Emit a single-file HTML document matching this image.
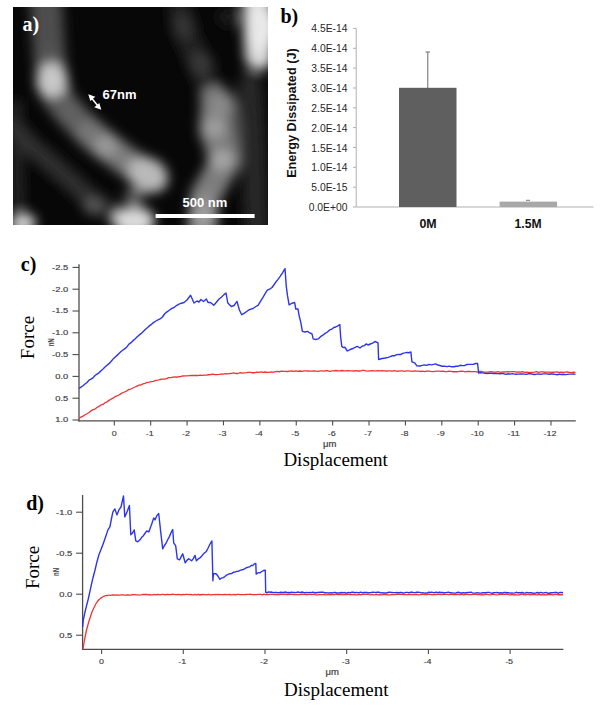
<!DOCTYPE html>
<html><head><meta charset="utf-8"><style>
html,body{margin:0;padding:0;background:#fff;width:602px;height:707px;overflow:hidden;position:relative}
</style></head><body>
<svg width="602" height="707" viewBox="0 0 602 707" style="position:absolute;left:0;top:0">
<defs><filter id="bl" x="-20%" y="-20%" width="140%" height="140%"><feGaussianBlur stdDeviation="6"/></filter>
<clipPath id="afm"><rect x="13" y="7" width="255" height="218"/></clipPath></defs>
<rect x="13" y="7" width="255" height="218" fill="#070707"/>
<g clip-path="url(#afm)"><g filter="url(#bl)">
<polyline points="16,105 17,150 18,205" fill="none" stroke="#262626" stroke-width="12" stroke-linecap="round" stroke-linejoin="round"/>
<polyline points="14,128 33,148 53,165 72,182 92,200 112,212" fill="none" stroke="#2e2e2e" stroke-width="20" stroke-linecap="round" stroke-linejoin="round"/>
<polyline points="250,85 254,150 256,225" fill="none" stroke="#262626" stroke-width="24" stroke-linecap="round" stroke-linejoin="round"/>
<polyline points="180,10 186,35 200,64 210,92" fill="none" stroke="#202020" stroke-width="24" stroke-linecap="round" stroke-linejoin="round"/>
<polyline points="46,0 48,35 50,62" fill="none" stroke="#4e4e4e" stroke-width="32" stroke-linecap="round" stroke-linejoin="round"/>
<polyline points="52,86 58,98 70,113 90,133" fill="none" stroke="#5c5c5c" stroke-width="30" stroke-linecap="round" stroke-linejoin="round"/>
<polyline points="90,133 106,146 125,160 148,176" fill="none" stroke="#707070" stroke-width="30" stroke-linecap="round" stroke-linejoin="round"/>
<polyline points="226,105 229,130 230,160" fill="none" stroke="#555555" stroke-width="24" stroke-linecap="round" stroke-linejoin="round"/>
<polyline points="216,100 214,130 221,148 223,165 214,181 205,197 202,230" fill="none" stroke="#7d7d7d" stroke-width="30" stroke-linecap="round" stroke-linejoin="round"/>
<polyline points="257,0 258,35 259,56" fill="none" stroke="#d7d7d7" stroke-width="28" stroke-linecap="round" stroke-linejoin="round"/>
<ellipse cx="228" cy="17" rx="10" ry="10" fill="#1e1e1e"/>
<ellipse cx="183" cy="27" rx="11" ry="11" fill="#343434"/>
<ellipse cx="201" cy="64" rx="12" ry="12" fill="#373737"/>
<ellipse cx="49" cy="55" rx="14" ry="9" fill="#555555"/>
<ellipse cx="52" cy="80" rx="16" ry="17" fill="#c8c8c8"/>
<ellipse cx="70" cy="113" rx="11" ry="10" fill="#626262"/>
<ellipse cx="90" cy="133" rx="11" ry="10" fill="#767676"/>
<ellipse cx="106" cy="146" rx="12" ry="11" fill="#989898"/>
<ellipse cx="124" cy="159" rx="10" ry="9" fill="#808080"/>
<ellipse cx="148" cy="175" rx="21" ry="17" fill="#b9b9b9" transform="rotate(30 148 175)"/>
<ellipse cx="134" cy="197" rx="10" ry="9" fill="#5f5f5f"/>
<ellipse cx="134" cy="221" rx="21" ry="14" fill="#dadada"/>
<ellipse cx="23" cy="223" rx="13" ry="10" fill="#d4d4d4"/>
<ellipse cx="93" cy="206" rx="10" ry="9" fill="#555555"/>
<ellipse cx="221" cy="107" rx="11" ry="9" fill="#8c8c8c"/>
<ellipse cx="214" cy="128" rx="12" ry="10" fill="#9e9e9e"/>
<ellipse cx="222" cy="160" rx="12" ry="10" fill="#a5a5a5"/>
<ellipse cx="204" cy="200" rx="11" ry="9" fill="#8c8c8c"/>
<ellipse cx="203" cy="216" rx="12" ry="11" fill="#a0a0a0"/>
<ellipse cx="261" cy="28" rx="17" ry="24" fill="#e8e8e8"/>
</g></g>
<text x="22.5" y="30.6" font-family="Liberation Serif" font-weight="bold" font-size="20" fill="#fff">a)</text>
<text x="102.5" y="99.2" font-family="Liberation Sans" font-weight="bold" font-size="13" fill="#fff">67nm</text>
<g stroke="#fff" stroke-width="1.6" fill="#fff"><line x1="91.5" y1="98" x2="98" y2="106"/></g>
<polygon points="88.3,94.3 95.3,96.8 90.3,101" fill="#fff"/>
<polygon points="101.3,109.8 94.3,107.3 99.3,103.1" fill="#fff"/>
<text x="182.5" y="207.3" font-family="Liberation Sans" font-weight="bold" font-size="13" fill="#fff">500 nm</text>
<rect x="155.6" y="214" width="99" height="4" fill="#fff"/>
<text x="280.4" y="23.3" font-family="Liberation Serif" font-weight="bold" font-size="20" fill="#000">b)</text>
<line x1="356.2" y1="28.4" x2="356.2" y2="207" stroke="#b0b0b0" stroke-width="1"/>
<line x1="356.2" y1="207" x2="593.5" y2="207" stroke="#b0b0b0" stroke-width="1"/>
<line x1="353" y1="207" x2="356.2" y2="207" stroke="#b0b0b0" stroke-width="1"/>
<text x="347.4" y="211" text-anchor="end" font-family="Liberation Sans" font-size="10.3" fill="#262626">0.0E+00</text>
<line x1="353" y1="187.2" x2="356.2" y2="187.2" stroke="#b0b0b0" stroke-width="1"/>
<text x="347.4" y="191.2" text-anchor="end" font-family="Liberation Sans" font-size="10.3" fill="#262626">5.0E-15</text>
<line x1="353" y1="167.3" x2="356.2" y2="167.3" stroke="#b0b0b0" stroke-width="1"/>
<text x="347.4" y="171.3" text-anchor="end" font-family="Liberation Sans" font-size="10.3" fill="#262626">1.0E-14</text>
<line x1="353" y1="147.5" x2="356.2" y2="147.5" stroke="#b0b0b0" stroke-width="1"/>
<text x="347.4" y="151.5" text-anchor="end" font-family="Liberation Sans" font-size="10.3" fill="#262626">1.5E-14</text>
<line x1="353" y1="127.6" x2="356.2" y2="127.6" stroke="#b0b0b0" stroke-width="1"/>
<text x="347.4" y="131.6" text-anchor="end" font-family="Liberation Sans" font-size="10.3" fill="#262626">2.0E-14</text>
<line x1="353" y1="107.8" x2="356.2" y2="107.8" stroke="#b0b0b0" stroke-width="1"/>
<text x="347.4" y="111.8" text-anchor="end" font-family="Liberation Sans" font-size="10.3" fill="#262626">2.5E-14</text>
<line x1="353" y1="88" x2="356.2" y2="88" stroke="#b0b0b0" stroke-width="1"/>
<text x="347.4" y="92" text-anchor="end" font-family="Liberation Sans" font-size="10.3" fill="#262626">3.0E-14</text>
<line x1="353" y1="68.1" x2="356.2" y2="68.1" stroke="#b0b0b0" stroke-width="1"/>
<text x="347.4" y="72.1" text-anchor="end" font-family="Liberation Sans" font-size="10.3" fill="#262626">3.5E-14</text>
<line x1="353" y1="48.3" x2="356.2" y2="48.3" stroke="#b0b0b0" stroke-width="1"/>
<text x="347.4" y="52.3" text-anchor="end" font-family="Liberation Sans" font-size="10.3" fill="#262626">4.0E-14</text>
<line x1="353" y1="28.4" x2="356.2" y2="28.4" stroke="#b0b0b0" stroke-width="1"/>
<text x="347.4" y="32.4" text-anchor="end" font-family="Liberation Sans" font-size="10.3" fill="#262626">4.5E-14</text>
<rect x="399" y="87.8" width="57.5" height="119.2" fill="#5f5f5f"/>
<line x1="427.8" y1="52" x2="427.8" y2="88" stroke="#6a6a6a" stroke-width="1"/>
<line x1="425.5" y1="52" x2="430" y2="52" stroke="#6a6a6a" stroke-width="1"/>
<rect x="499.6" y="201.6" width="57.4" height="5.4" fill="#a8a8a8"/>
<line x1="526" y1="200.3" x2="530" y2="200.3" stroke="#777" stroke-width="1"/>
<text x="428" y="228.3" text-anchor="middle" font-family="Liberation Sans" font-weight="bold" font-size="13" textLength="17.2" lengthAdjust="spacingAndGlyphs" fill="#111">0M</text>
<text x="528" y="228.3" text-anchor="middle" font-family="Liberation Sans" font-weight="bold" font-size="13" textLength="27" lengthAdjust="spacingAndGlyphs" fill="#111">1.5M</text>
<text transform="translate(295.6 113.1) rotate(-90)" text-anchor="middle" font-family="Liberation Sans" font-weight="bold" font-size="12.3" textLength="129.5" lengthAdjust="spacingAndGlyphs" fill="#111">Energy Dissipated (J)</text>
<text x="20.8" y="270.8" font-family="Liberation Serif" font-weight="bold" font-size="20" fill="#000">c)</text>
<line x1="79" y1="264.2" x2="79" y2="421.5" stroke="#4d4d4d" stroke-width="1.3"/>
<line x1="78.4" y1="420.9" x2="575.8" y2="420.9" stroke="#4d4d4d" stroke-width="1.3"/>
<line x1="72.5" y1="267.4" x2="79" y2="267.4" stroke="#4d4d4d" stroke-width="1.1"/>
<text transform="translate(68.2 269.8) scale(1.17 1)" text-anchor="end" font-family="Liberation Sans" font-size="8" fill="#404040" stroke="#404040" stroke-width="0.18">-2.5</text>
<line x1="72.5" y1="289.2" x2="79" y2="289.2" stroke="#4d4d4d" stroke-width="1.1"/>
<text transform="translate(68.2 291.6) scale(1.17 1)" text-anchor="end" font-family="Liberation Sans" font-size="8" fill="#404040" stroke="#404040" stroke-width="0.18">-2.0</text>
<line x1="72.5" y1="311" x2="79" y2="311" stroke="#4d4d4d" stroke-width="1.1"/>
<text transform="translate(68.2 313.4) scale(1.17 1)" text-anchor="end" font-family="Liberation Sans" font-size="8" fill="#404040" stroke="#404040" stroke-width="0.18">-1.5</text>
<line x1="72.5" y1="332.8" x2="79" y2="332.8" stroke="#4d4d4d" stroke-width="1.1"/>
<text transform="translate(68.2 335.2) scale(1.17 1)" text-anchor="end" font-family="Liberation Sans" font-size="8" fill="#404040" stroke="#404040" stroke-width="0.18">-1.0</text>
<line x1="72.5" y1="354.6" x2="79" y2="354.6" stroke="#4d4d4d" stroke-width="1.1"/>
<text transform="translate(68.2 357) scale(1.17 1)" text-anchor="end" font-family="Liberation Sans" font-size="8" fill="#404040" stroke="#404040" stroke-width="0.18">-0.5</text>
<line x1="72.5" y1="376.4" x2="79" y2="376.4" stroke="#4d4d4d" stroke-width="1.1"/>
<text transform="translate(68.2 378.8) scale(1.17 1)" text-anchor="end" font-family="Liberation Sans" font-size="8" fill="#404040" stroke="#404040" stroke-width="0.18">0.0</text>
<line x1="72.5" y1="398.2" x2="79" y2="398.2" stroke="#4d4d4d" stroke-width="1.1"/>
<text transform="translate(68.2 400.6) scale(1.17 1)" text-anchor="end" font-family="Liberation Sans" font-size="8" fill="#404040" stroke="#404040" stroke-width="0.18">0.5</text>
<line x1="72.5" y1="420" x2="79" y2="420" stroke="#4d4d4d" stroke-width="1.1"/>
<text transform="translate(68.2 422.4) scale(1.17 1)" text-anchor="end" font-family="Liberation Sans" font-size="8" fill="#404040" stroke="#404040" stroke-width="0.18">1.0</text>
<line x1="114.3" y1="420.9" x2="114.3" y2="425.4" stroke="#4d4d4d" stroke-width="1.1"/>
<text transform="translate(114.3 435.5) scale(1.12 1)" text-anchor="middle" font-family="Liberation Sans" font-size="8" fill="#404040" stroke="#404040" stroke-width="0.15">0</text>
<line x1="150.69" y1="420.9" x2="150.69" y2="425.4" stroke="#4d4d4d" stroke-width="1.1"/>
<text transform="translate(149.69 435.5) scale(1.12 1)" text-anchor="middle" font-family="Liberation Sans" font-size="8" fill="#404040" stroke="#404040" stroke-width="0.15">-1</text>
<line x1="187.08" y1="420.9" x2="187.08" y2="425.4" stroke="#4d4d4d" stroke-width="1.1"/>
<text transform="translate(186.08 435.5) scale(1.12 1)" text-anchor="middle" font-family="Liberation Sans" font-size="8" fill="#404040" stroke="#404040" stroke-width="0.15">-2</text>
<line x1="223.47" y1="420.9" x2="223.47" y2="425.4" stroke="#4d4d4d" stroke-width="1.1"/>
<text transform="translate(222.47 435.5) scale(1.12 1)" text-anchor="middle" font-family="Liberation Sans" font-size="8" fill="#404040" stroke="#404040" stroke-width="0.15">-3</text>
<line x1="259.86" y1="420.9" x2="259.86" y2="425.4" stroke="#4d4d4d" stroke-width="1.1"/>
<text transform="translate(258.86 435.5) scale(1.12 1)" text-anchor="middle" font-family="Liberation Sans" font-size="8" fill="#404040" stroke="#404040" stroke-width="0.15">-4</text>
<line x1="296.25" y1="420.9" x2="296.25" y2="425.4" stroke="#4d4d4d" stroke-width="1.1"/>
<text transform="translate(295.25 435.5) scale(1.12 1)" text-anchor="middle" font-family="Liberation Sans" font-size="8" fill="#404040" stroke="#404040" stroke-width="0.15">-5</text>
<line x1="332.64" y1="420.9" x2="332.64" y2="425.4" stroke="#4d4d4d" stroke-width="1.1"/>
<text transform="translate(331.64 435.5) scale(1.12 1)" text-anchor="middle" font-family="Liberation Sans" font-size="8" fill="#404040" stroke="#404040" stroke-width="0.15">-6</text>
<line x1="369.03" y1="420.9" x2="369.03" y2="425.4" stroke="#4d4d4d" stroke-width="1.1"/>
<text transform="translate(368.03 435.5) scale(1.12 1)" text-anchor="middle" font-family="Liberation Sans" font-size="8" fill="#404040" stroke="#404040" stroke-width="0.15">-7</text>
<line x1="405.42" y1="420.9" x2="405.42" y2="425.4" stroke="#4d4d4d" stroke-width="1.1"/>
<text transform="translate(404.42 435.5) scale(1.12 1)" text-anchor="middle" font-family="Liberation Sans" font-size="8" fill="#404040" stroke="#404040" stroke-width="0.15">-8</text>
<line x1="441.81" y1="420.9" x2="441.81" y2="425.4" stroke="#4d4d4d" stroke-width="1.1"/>
<text transform="translate(440.81 435.5) scale(1.12 1)" text-anchor="middle" font-family="Liberation Sans" font-size="8" fill="#404040" stroke="#404040" stroke-width="0.15">-9</text>
<line x1="478.2" y1="420.9" x2="478.2" y2="425.4" stroke="#4d4d4d" stroke-width="1.1"/>
<text transform="translate(477.2 435.5) scale(1.12 1)" text-anchor="middle" font-family="Liberation Sans" font-size="8" fill="#404040" stroke="#404040" stroke-width="0.15">-10</text>
<line x1="514.59" y1="420.9" x2="514.59" y2="425.4" stroke="#4d4d4d" stroke-width="1.1"/>
<text transform="translate(513.59 435.5) scale(1.12 1)" text-anchor="middle" font-family="Liberation Sans" font-size="8" fill="#404040" stroke="#404040" stroke-width="0.15">-11</text>
<line x1="550.98" y1="420.9" x2="550.98" y2="425.4" stroke="#4d4d4d" stroke-width="1.1"/>
<text transform="translate(549.98 435.5) scale(1.12 1)" text-anchor="middle" font-family="Liberation Sans" font-size="8" fill="#404040" stroke="#404040" stroke-width="0.15">-12</text>
<text x="329.8" y="446.8" text-anchor="middle" font-family="Liberation Sans" font-size="8.3" textLength="13.4" lengthAdjust="spacingAndGlyphs" fill="#404040" stroke="#404040" stroke-width="0.2">&#956;m</text>
<text x="283.4" y="465.6" font-family="Liberation Serif" font-size="19" fill="#000">Displacement</text>
<text transform="translate(34.4 337.5) rotate(-90)" text-anchor="middle" font-family="Liberation Serif" font-size="19" fill="#000">Force</text>
<text transform="translate(54.3 342.3) rotate(-90)" text-anchor="middle" font-family="Liberation Sans" font-weight="bold" font-size="8.5" textLength="8" lengthAdjust="spacingAndGlyphs" fill="#404040">nN</text>
<text x="26.2" y="509.5" font-family="Liberation Serif" font-weight="bold" font-size="20" fill="#000">d)</text>
<line x1="82.6" y1="495" x2="82.6" y2="650" stroke="#4d4d4d" stroke-width="1.3"/>
<line x1="82" y1="649.4" x2="563.4" y2="649.4" stroke="#4d4d4d" stroke-width="1.3"/>
<line x1="76.1" y1="512.2" x2="82.6" y2="512.2" stroke="#4d4d4d" stroke-width="1.1"/>
<text transform="translate(72.2 514.6) scale(1.17 1)" text-anchor="end" font-family="Liberation Sans" font-size="8" fill="#404040" stroke="#404040" stroke-width="0.18">-1.0</text>
<line x1="76.1" y1="553.2" x2="82.6" y2="553.2" stroke="#4d4d4d" stroke-width="1.1"/>
<text transform="translate(72.2 555.6) scale(1.17 1)" text-anchor="end" font-family="Liberation Sans" font-size="8" fill="#404040" stroke="#404040" stroke-width="0.18">-0.5</text>
<line x1="76.1" y1="594.2" x2="82.6" y2="594.2" stroke="#4d4d4d" stroke-width="1.1"/>
<text transform="translate(72.2 596.6) scale(1.17 1)" text-anchor="end" font-family="Liberation Sans" font-size="8" fill="#404040" stroke="#404040" stroke-width="0.18">0.0</text>
<line x1="76.1" y1="635.2" x2="82.6" y2="635.2" stroke="#4d4d4d" stroke-width="1.1"/>
<text transform="translate(72.2 637.6) scale(1.17 1)" text-anchor="end" font-family="Liberation Sans" font-size="8" fill="#404040" stroke="#404040" stroke-width="0.18">0.5</text>
<line x1="101.6" y1="649.4" x2="101.6" y2="653.9" stroke="#4d4d4d" stroke-width="1.1"/>
<text transform="translate(101.6 664) scale(1.12 1)" text-anchor="middle" font-family="Liberation Sans" font-size="8" fill="#404040" stroke="#404040" stroke-width="0.15">0</text>
<line x1="183.3" y1="649.4" x2="183.3" y2="653.9" stroke="#4d4d4d" stroke-width="1.1"/>
<text transform="translate(182.3 664) scale(1.12 1)" text-anchor="middle" font-family="Liberation Sans" font-size="8" fill="#404040" stroke="#404040" stroke-width="0.15">-1</text>
<line x1="265" y1="649.4" x2="265" y2="653.9" stroke="#4d4d4d" stroke-width="1.1"/>
<text transform="translate(264 664) scale(1.12 1)" text-anchor="middle" font-family="Liberation Sans" font-size="8" fill="#404040" stroke="#404040" stroke-width="0.15">-2</text>
<line x1="346.7" y1="649.4" x2="346.7" y2="653.9" stroke="#4d4d4d" stroke-width="1.1"/>
<text transform="translate(345.7 664) scale(1.12 1)" text-anchor="middle" font-family="Liberation Sans" font-size="8" fill="#404040" stroke="#404040" stroke-width="0.15">-3</text>
<line x1="428.4" y1="649.4" x2="428.4" y2="653.9" stroke="#4d4d4d" stroke-width="1.1"/>
<text transform="translate(427.4 664) scale(1.12 1)" text-anchor="middle" font-family="Liberation Sans" font-size="8" fill="#404040" stroke="#404040" stroke-width="0.15">-4</text>
<line x1="510.1" y1="649.4" x2="510.1" y2="653.9" stroke="#4d4d4d" stroke-width="1.1"/>
<text transform="translate(509.1 664) scale(1.12 1)" text-anchor="middle" font-family="Liberation Sans" font-size="8" fill="#404040" stroke="#404040" stroke-width="0.15">-5</text>
<text x="332.2" y="675" text-anchor="middle" font-family="Liberation Sans" font-size="8.3" textLength="13.4" lengthAdjust="spacingAndGlyphs" fill="#404040" stroke="#404040" stroke-width="0.2">&#956;m</text>
<text x="284" y="695.6" font-family="Liberation Serif" font-size="19" fill="#000">Displacement</text>
<text transform="translate(38.9 567.4) rotate(-90)" text-anchor="middle" font-family="Liberation Serif" font-size="19" fill="#000">Force</text>
<text transform="translate(58.7 572) rotate(-90)" text-anchor="middle" font-family="Liberation Sans" font-weight="bold" font-size="8.5" textLength="8" lengthAdjust="spacingAndGlyphs" fill="#404040">nN</text>
<polyline fill="none" stroke="#ee3436" stroke-width="1.3" stroke-linejoin="round" points="79,418.5 81,417.08 83,416.12 85,414.77 87,413.74 89,412.55 91,410.89 93,409.64 95,409.09 97,407.42 99,406.4 101,404.99 103,404.4 105,402.78 107,401.87 109,400.38 111,399.2 113,398.19 115,396.69 117,395.96 119,395.03 121,393.64 123,392.5 125,391.78 127,390.8 129,389.4 131,389.04 133,387.99 135,387 137,386.07 139,385.09 141,384.99 143,383.91 145,383.34 147,382.4 149.17,382.22 151.33,381.6 153.5,381.29 155.67,380.38 157.83,380.22 160,379.5 162.2,379.08 164.4,379.09 166.6,378.66 168.8,377.66 171,377.6 173,377.07 175,376.89 177,377.24 179,376.58 181,376.49 183,375.98 185,375.9 187.13,375.79 189.27,375.58 191.4,375.43 193.53,375.5 195.67,375.38 197.8,375.52 199.93,375.23 202.07,375.31 204.2,375.14 206.33,375.13 208.47,374.75 210.6,374.5 212.71,374.12 214.82,374.58 216.94,374.55 219.05,374.4 221.16,374.02 223.28,374.03 225.39,373.53 227.5,373.92 229.61,373.6 231.72,373.27 233.84,372.98 235.95,373.51 238.06,373.51 240.18,372.68 242.29,373.15 244.4,372.8 246.46,372.66 248.52,372.39 250.58,372.44 252.64,372.75 254.7,372.76 256.76,372.04 258.81,372.42 260.87,371.9 262.93,372.37 264.99,372 267.05,372.37 269.11,372.38 271.17,371.94 273.23,372.27 275.29,371.65 277.35,371.39 279.41,371.75 281.47,371.23 283.53,371.29 285.59,371.39 287.64,371.49 289.7,371.06 291.76,370.9 293.82,371.49 295.88,370.98 297.94,371.43 300,371 302,371.31 304,370.89 306,370.95 308,370.99 310,371.09 312,371.04 314,371.01 316,371.05 318,371.3 320,370.95 322,370.88 324,371.11 326,370.72 328,370.76 330,371.3 332,370.93 334,370.94 336,370.51 338,370.82 340,370.95 342,370.5 344,370.97 346,370.97 348,370.51 350,370.96 352,370.82 354,370.99 356,370.72 358,371 360,371.02 362,370.44 364,370.47 366,370.95 368,371.18 370,370.8 372.03,370.62 374.05,370.8 376.08,370.92 378.11,370.72 380.14,370.78 382.16,370.75 384.19,370.81 386.22,371.01 388.24,370.79 390.27,370.87 392.3,371.2 394.33,370.62 396.35,371.08 398.38,371.23 400.41,370.9 402.43,370.85 404.46,371.33 406.49,370.9 408.52,370.87 410.54,371.09 412.57,371.31 414.6,370.85 416.62,371.05 418.65,371.07 420.68,371.49 422.71,371.19 424.73,371.54 426.76,371.01 428.79,371.16 430.81,371.43 432.84,371.63 434.87,371.3 436.89,371.14 438.92,371.07 440.95,371.42 442.98,371.16 445,371.67 447.03,371.71 449.06,371.21 451.08,371.3 453.11,371.74 455.14,371.63 457.17,371.77 459.19,371.42 461.22,371.27 463.25,371.41 465.27,371.83 467.3,371.43 469.33,371.51 471.36,371.58 473.38,371.6 475.41,371.61 477.44,372.03 479.46,371.44 481.49,371.34 483.52,372.1 485.55,372.07 487.57,372.17 489.6,371.8 491.65,371.76 493.69,372.18 495.74,372.18 497.78,371.63 499.83,372.06 501.87,372.14 503.92,372.01 505.96,371.91 508.01,371.74 510.05,371.79 512.1,371.71 514.14,371.6 516.19,372.03 518.23,371.8 520.28,372.23 522.32,371.63 524.37,372.33 526.41,372.17 528.46,372.37 530.5,372.36 532.55,372.37 534.6,372.12 536.64,371.68 538.69,372.28 540.73,371.84 542.78,371.95 544.82,372.25 546.87,372.15 548.91,372.08 550.96,372.51 553,372.26 555.05,372.05 557.09,371.99 559.14,372.49 561.18,372.2 563.23,372.45 565.27,372.12 567.32,372.01 569.36,372.29 571.41,372.53 573.45,372.03 575.5,372.3"/>
<polyline fill="none" stroke="#2c36e8" stroke-width="1.4" stroke-linejoin="round" points="79,388.4 81,387.13 83,385.7 85,384.03 87,382.48 89,380.11 91,379.17 93,377.84 95,375.47 97,374.13 99,372.8 101,370.69 103,369.06 105,367.07 107,365.24 109,363.66 111,361.5 113,359.09 115,357.22 117,355.38 119,353.46 121,351.49 123,350 125,348.64 127,346.69 129,344.09 131,342.67 133,340.65 135,339 137,336.98 139,335.18 141,333.65 143,331.75 145,329.69 147,328 149.25,325.94 151.5,324.33 153.75,322.37 156,321 158,319.89 160,318.88 162,317.5 165,313.5 167.3,311.63 169.6,310 171.8,308.33 174,307.5 176.5,305.53 179,304.2 181.5,303.22 184,302.5 187,300 190.6,295.3 194,303 197,301 199,302 201,299.5 203.5,301.5 206.4,299 208,302.5 210.5,302.5 213.8,305.3 216.4,302.25 219,299 221.33,297.28 223.67,294.88 226,293 227.8,303 231.3,306.5 234,305.5 237,301.4 239.4,310 241.7,314.7 244.03,313.43 246.37,311.69 248.7,310 250.85,309.18 253,308.5 255.5,306.77 258,305.3 260.32,301.52 262.65,297.95 264.98,293.9 267.3,290.2 269.65,289.04 272,287.5 274,284.74 276,281.8 278,279.36 280,276.6 282.5,272.8 285,268.6 286.3,286.6 287.5,295.7 289.1,304.8 291.5,303.5 294.6,302.4 295.8,309 298,309 299.1,315.6 300.8,322.3 302.4,331.4 305,332 307.4,331.4 310,333 312,333.9 313.2,338.9 315.7,339.5 318.2,338.9 320.52,336.65 322.84,335.18 325.16,333.37 327.48,332 329.8,329.8 331.8,329.18 333.8,327.55 335.8,327.02 337.8,325.85 339.8,324.5 340.6,336.4 341.8,346.4 343.2,347.5 344.8,347.2 347.3,351 350.15,349.51 353,348.5 355.1,347.41 357.2,346.4 360,348 362.13,346.26 364.27,345.58 366.4,343.9 368,345 370.33,344 372.67,343.05 375,341.5 378,342.9 378.6,359.5 382,358.5 384.06,358.32 386.13,357.72 388.19,357.32 390.26,356.68 392.32,355.75 394.39,355.76 396.45,354.7 398.51,354.37 400.58,354.53 402.64,353.33 404.71,352.91 406.77,352.44 408.84,352.75 410.9,351.9 411.9,361.9 414.8,362.9 416.8,365.8 420,366 422.26,365.38 424.51,364.92 426.77,365.44 429.03,364.42 431.29,364.84 433.54,364.37 435.8,363.9 437.8,365.04 439.8,365.5 442.18,366.21 444.56,366.1 446.94,366.58 449.32,366.08 451.7,366.8 453.86,366.79 456.02,366.26 458.18,366.19 460.33,365.31 462.49,365.67 464.65,365.58 466.81,364.44 468.97,364.42 471.12,364.39 473.28,364.38 475.44,363.52 477.6,363.5 478.6,373 480.74,372.76 482.88,372.91 485.02,373.36 487.16,373.57 489.3,373.29 491.44,373.35 493.58,373.46 495.72,373.49 497.86,373.64 500,373.8 502.04,373.4 504.08,373.83 506.12,374.32 508.16,373.78 510.2,374.13 512.24,373.56 514.28,374.1 516.32,374.19 518.36,374.12 520.41,373.98 522.45,373.96 524.49,374.14 526.53,374.41 528.57,373.68 530.61,373.64 532.65,374.31 534.69,374.49 536.73,374.11 538.77,374.05 540.81,374.34 542.85,373.83 544.89,373.92 546.93,373.87 548.97,374.27 551.01,374.02 553.05,373.95 555.09,374.43 557.14,374.71 559.18,374.07 561.22,374.49 563.26,374.22 565.3,374.67 567.34,374.42 569.38,374.12 571.42,374.09 573.46,373.91 575.5,374.4"/>
<polyline fill="none" stroke="#ee3436" stroke-width="1.3" stroke-linejoin="round" points="83,649 84.5,640 86.5,630 89,621 90.5,616.49 92,612 93.75,608.17 95.5,604.5 97.25,601.77 99,599.5 100.75,598.15 102.5,597 104.25,596.13 106,595.5 107.5,595.57 109,595 110.5,595.47 112,595 113.52,594.97 115.04,595.04 116.56,594.93 118.08,595.17 119.6,595.15 121.12,594.94 122.64,594.87 124.16,595.03 125.68,595.11 127.2,594.77 128.72,594.99 130.24,595.13 131.76,594.77 133.28,594.59 134.8,594.57 136.32,594.9 137.84,594.85 139.36,595.03 140.88,594.94 142.4,594.5 143.92,594.45 145.44,594.48 146.96,594.41 148.48,594.76 150,594.6 151.5,594.85 153,594.88 154.5,594.43 156,594.85 157.5,594.46 159,594.54 160.5,594.75 162,594.3 163.5,594.31 165,594.82 166.5,594.44 168,594.49 169.5,594.64 171,594.71 172.5,594.24 174,594.47 175.5,594.54 177,594.57 178.5,594.38 180,594.64 181.5,594.9 183,594.5 184.5,594.61 186,594.31 187.5,594.42 189,594.69 190.5,594.3 192,594.84 193.5,594.86 195,594.29 196.5,594.88 198,594.48 199.5,594.76 201,594.75 202.5,594.42 204,594.69 205.5,594.67 207,594.78 208.5,594.4 210,594.74 211.5,594.88 213,594.68 214.5,594.58 216,594.29 217.5,594.55 219,594.45 220.5,594.71 222,594.68 223.5,594.6 225,594.33 226.5,594.65 228,594.64 229.5,594.32 231,594.82 232.5,594.65 234,594.28 235.5,594.85 237,594.29 238.5,594.42 240,594.69 241.5,594.61 243,594.58 244.5,594.64 246,594.51 247.5,594.4 249,594.31 250.5,594.23 252,594.68 253.5,594.71 255,594.56 256.5,594.7 258,594.43 259.5,594.36 261,594.44 262.5,594.79 264,594.2 265.5,594.53 267,594.35 268.5,594.71 270,594.42 271.5,594.4 273,594.45 274.5,594.55 276,594.71 277.5,594.41 279,594.76 280.5,594.24 282,594.35 283.5,594.23 285,594.24 286.5,594.7 288,594.67 289.5,594.29 291,594.29 292.5,594.45 294,594.67 295.5,594.72 297,594.68 298.5,594.57 300,594.5 301.5,594.25 303.01,594.43 304.51,594.29 306.01,594.52 307.51,594.55 309.02,594.29 310.52,594.33 312.02,594.7 313.53,594.18 315.03,594.72 316.53,594.78 318.03,594.82 319.54,594.43 321.04,594.54 322.54,594.57 324.05,594.6 325.55,594.84 327.05,594.64 328.55,594.37 330.06,594.76 331.56,594.5 333.06,594.58 334.57,594.67 336.07,594.17 337.57,594.7 339.07,594.63 340.58,594.51 342.08,594.53 343.58,594.49 345.09,594.3 346.59,594.54 348.09,594.19 349.59,594.52 351.1,594.62 352.6,594.48 354.1,594.57 355.61,594.84 357.11,594.8 358.61,594.27 360.11,594.73 361.62,594.61 363.12,594.21 364.62,594.43 366.13,594.34 367.63,594.23 369.13,594.55 370.63,594.83 372.14,594.4 373.64,594.79 375.14,594.66 376.65,594.27 378.15,594.78 379.65,594.6 381.15,594.83 382.66,594.68 384.16,594.7 385.66,594.42 387.17,594.75 388.67,594.84 390.17,594.79 391.67,594.49 393.18,594.72 394.68,594.53 396.18,594.26 397.69,594.22 399.19,594.24 400.69,594.33 402.19,594.3 403.7,594.54 405.2,594.68 406.7,594.57 408.21,594.49 409.71,594.65 411.21,594.41 412.71,594.52 414.22,594.72 415.72,594.48 417.22,594.32 418.73,594.82 420.23,594.7 421.73,594.45 423.23,594.46 424.74,594.57 426.24,594.62 427.74,594.36 429.25,594.2 430.75,594.35 432.25,594.75 433.75,594.3 435.26,594.52 436.76,594.34 438.26,594.35 439.77,594.32 441.27,594.49 442.77,594.32 444.27,594.22 445.78,594.28 447.28,594.32 448.78,594.55 450.29,594.25 451.79,594.22 453.29,594.52 454.79,594.49 456.3,594.7 457.8,594.25 459.3,594.49 460.81,594.49 462.31,594.23 463.81,594.89 465.31,594.37 466.82,594.28 468.32,594.55 469.82,594.33 471.33,594.65 472.83,594.46 474.33,594.3 475.83,594.25 477.34,594.73 478.84,594.41 480.34,594.77 481.85,594.54 483.35,594.87 484.85,594.43 486.35,594.4 487.86,594.41 489.36,594.79 490.86,594.66 492.37,594.46 493.87,594.29 495.37,594.7 496.87,594.9 498.38,594.64 499.88,594.23 501.38,594.25 502.89,594.29 504.39,594.35 505.89,594.25 507.39,594.27 508.9,594.69 510.4,594.86 511.9,594.37 513.41,594.91 514.91,594.57 516.41,594.79 517.91,594.88 519.42,594.89 520.92,594.26 522.42,594.45 523.93,594.66 525.43,594.9 526.93,594.3 528.43,594.44 529.94,594.83 531.44,594.32 532.94,594.51 534.45,594.47 535.95,594.72 537.45,594.89 538.95,594.36 540.46,594.76 541.96,594.76 543.46,594.83 544.97,594.63 546.47,594.89 547.97,594.5 549.47,594.54 550.98,594.41 552.48,594.79 553.98,594.58 555.49,594.44 556.99,594.37 558.49,594.75 559.99,594.67 561.5,594.75 563,594.6"/>
<polyline fill="none" stroke="#2c36e8" stroke-width="1.4" stroke-linejoin="round" points="82.6,627 83.3,620 85,612 86.5,605.89 88,600 89.67,592.55 91.33,584.79 93,577.7 94.97,570.28 96.93,561.96 98.9,554.8 100.57,550.43 102.23,546.39 103.9,541.8 105.9,536.03 107.9,529.9 109.9,526.9 111.4,519 112.9,511.9 114.9,508.9 116.9,514.9 118.9,509.9 121,507 123.5,496 124.8,516.9 127,512 129.4,505.5 130.8,534.8 132.5,533 134.2,529.9 135.8,540.8 137.8,541.8 140,539.8 141.7,537.31 143.4,535.69 145.1,533.27 146.8,530.9 148.8,531.9 150.43,527.61 152.07,522.94 153.7,517.9 155,519.9 156.7,515.9 158.7,513.5 160.7,531.9 162.7,548.8 164.37,545.75 166.03,543.2 167.7,539.8 169.37,536.6 171.03,532.77 172.7,529.5 173.7,542.8 175.7,545.8 177.3,558.8 179.7,559.8 181.2,556.67 182.7,553.8 185.2,562.8 186.9,560.37 188.6,558.8 190.1,559.7 191.6,560.8 193.3,558.56 195,555.4 196.4,560.8 198.2,558.9 200,557.8 201.5,556.37 203,554.41 204.5,552.88 206,551.8 207.97,548.32 209.93,544.27 211.9,540.9 212.9,580.7 213.5,573.7 216,573.7 217.95,576.05 219.9,579.3 221.57,578.02 223.23,577.58 224.9,576.59 226.57,575.08 228.23,574.36 229.9,573.7 231.6,573.61 233.3,572.31 235,572.09 236.7,571.39 238.4,571.2 240.1,570.46 241.8,569.8 243.4,569.49 245,568.64 246.6,567.69 248.2,567.08 249.8,566.8 251.3,565.53 252.8,565.43 254.3,563.86 255.8,563.4 256.2,574.1 258.03,572.76 259.87,572.83 261.7,571.5 263.5,570.55 265.3,570.2 265.7,592.3 267.21,592.7 268.73,591.9 270.24,592.29 271.76,592.05 273.27,592.66 274.78,592.46 276.3,592.49 277.81,592.62 279.32,592.73 280.84,592.22 282.35,592.48 283.87,592.33 285.38,592 286.89,592.73 288.41,592.5 289.92,592.73 291.43,592.12 292.95,592.46 294.46,592.4 295.98,592.67 297.49,592.02 299,592.3 300.52,592.44 302.03,592.04 303.54,592.53 305.06,592.71 306.57,592.41 308.09,592.64 309.6,592.5 311.11,592.61 312.62,592.22 314.12,592.36 315.63,593 317.14,592.34 318.65,592.44 320.16,592.1 321.67,592.23 323.18,592.18 324.68,592.95 326.19,592.75 327.7,592.9 329.21,593.01 330.72,592.64 332.23,592.96 333.73,592.56 335.24,592.45 336.75,592.98 338.26,592.94 339.77,592.99 341.28,592.52 342.78,592.81 344.29,592.45 345.8,593.04 347.31,592.96 348.82,592.34 350.33,592.98 351.83,592.23 353.34,592.15 354.85,592.78 356.36,592.35 357.87,592.58 359.38,592.7 360.88,592.1 362.39,592.81 363.9,592.34 365.41,592.5 366.92,592.41 368.43,592.81 369.93,592.82 371.44,592.36 372.95,592.18 374.46,592.38 375.97,592.49 377.48,592.16 378.98,592.24 380.49,592.85 382,592.79 383.51,593.06 385.02,593.07 386.52,592.97 388.03,592.47 389.54,592.26 391.05,592.41 392.56,592.56 394.07,592.63 395.58,592.64 397.08,592.46 398.59,592.96 400.1,592.39 401.61,592.57 403.12,593 404.62,592.92 406.13,592.41 407.64,592.36 409.15,592.92 410.66,592.13 412.17,592.25 413.68,592.65 415.18,592.66 416.69,592.29 418.2,592.18 419.71,592.33 421.22,592.9 422.73,592.6 424.23,593.12 425.74,592.92 427.25,593.12 428.76,592.18 430.27,592.33 431.78,592.16 433.28,592.58 434.79,592.49 436.3,592.2 437.81,592.7 439.32,592.25 440.83,592.47 442.33,592.4 443.84,592.96 445.35,592.58 446.86,592.42 448.37,592.21 449.88,592.6 451.38,592.8 452.89,592.84 454.4,593.08 455.91,592.98 457.42,592.42 458.93,592.31 460.43,592.94 461.94,592.97 463.45,592.69 464.96,593.01 466.47,592.74 467.98,592.47 469.48,592.36 470.99,592.21 472.5,592.84 474.01,593.09 475.52,593.1 477.02,592.67 478.53,592.87 480.04,593.13 481.55,593.02 483.06,592.81 484.57,592.62 486.07,592.73 487.58,592.38 489.09,592.4 490.6,592.9 492.11,593.21 493.62,592.76 495.12,592.63 496.63,592.57 498.14,592.68 499.65,593.03 501.16,592.68 502.67,593.19 504.18,592.39 505.68,592.55 507.19,592.76 508.7,592.65 510.21,593.09 511.72,593.07 513.23,593.17 514.73,592.86 516.24,592.28 517.75,592.82 519.26,592.8 520.77,592.74 522.27,592.53 523.78,592.96 525.29,593.17 526.8,592.36 528.31,592.93 529.82,592.63 531.33,592.78 532.83,593.16 534.34,593.23 535.85,592.91 537.36,592.46 538.87,593.19 540.38,592.45 541.88,592.66 543.39,593.1 544.9,592.59 546.41,592.55 547.92,593.23 549.42,593.23 550.93,592.6 552.44,592.68 553.95,592.57 555.46,592.42 556.97,592.54 558.48,593.27 559.98,592.38 561.49,592.53 563,592.8"/>
</svg>
</body></html>
